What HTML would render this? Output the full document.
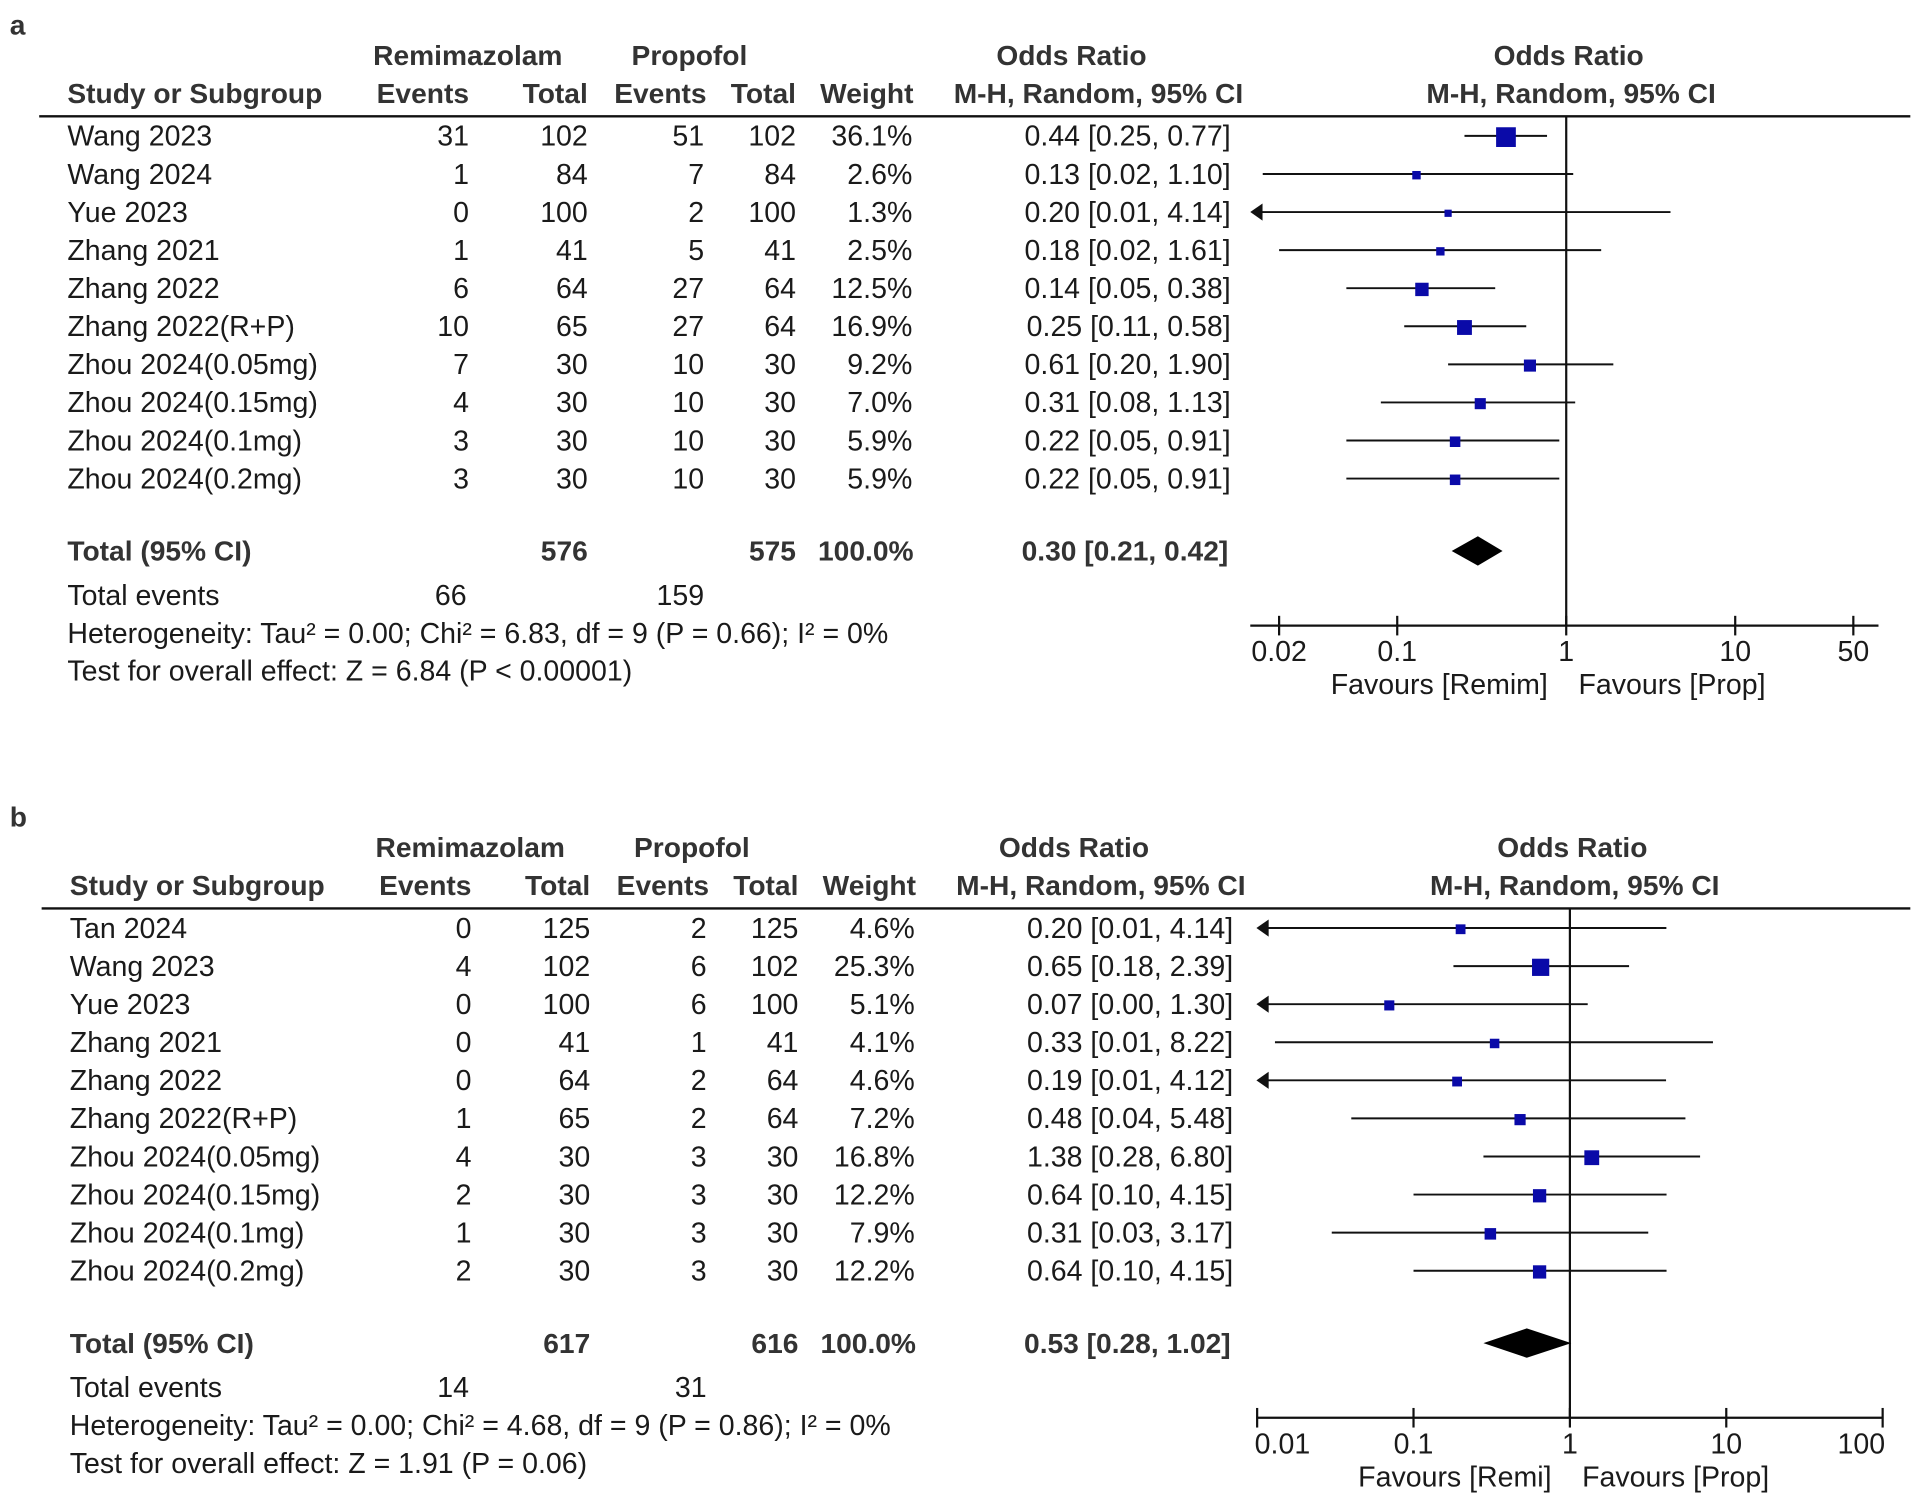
<!DOCTYPE html>
<html><head><meta charset="utf-8">
<style>
html,body{margin:0;padding:0;background:#fff;}
svg{display:block;}
text{font-family:"Liberation Sans",Arial,sans-serif;fill:#1a1a1a;font-size:23.3px;}
.b{font-weight:bold;fill:#333;font-size:23px;}
</style></head>
<body>
<svg id="fig" width="1914" height="1501" viewBox="0 0 1563 1226" preserveAspectRatio="none" xmlns="http://www.w3.org/2000/svg">
</svg>
<script>
// ---- Panel a data ----
const studiesA = ["Wang 2023","Wang 2024","Yue 2023","Zhang 2021","Zhang 2022","Zhang 2022(R+P)","Zhou 2024(0.05mg)","Zhou 2024(0.15mg)","Zhou 2024(0.1mg)","Zhou 2024(0.2mg)"];
const remEventsA = [31,1,0,1,6,10,7,4,3,3];
const remTotalA = [102,84,100,41,64,65,30,30,30,30];
const propEventsA = [51,7,2,5,27,27,10,10,10,10];
const propTotalA = [102,84,100,41,64,64,30,30,30,30];
const weightA = [36.1,2.6,1.3,2.5,12.5,16.9,9.2,7.0,5.9,5.9];
const orA = [0.44,0.13,0.20,0.18,0.14,0.25,0.61,0.31,0.22,0.22];
const loA = [0.25,0.02,0.01,0.02,0.05,0.11,0.20,0.08,0.05,0.05];
const hiA = [0.77,1.10,4.14,1.61,0.38,0.58,1.90,1.13,0.91,0.91];
const plotLoA = [0.25,0.016,0.01,0.02,0.05,0.11,0.20,0.08,0.05,0.05];
const clippedA = [false,false,true,false,false,false,false,false,false,false];
const totalA = {rem:576, prop:575, or:0.30, lo:0.21, hi:0.42, remEv:66, propEv:159};
const ticksA = [0.02,0.1,1,10,50];
const tickLabelsA = ["0.02","0.1","1","10","50"];
const hetA = "Heterogeneity: Tau² = 0.00; Chi² = 6.83, df = 9 (P = 0.66); I² = 0%";
const testA = "Test for overall effect: Z = 6.84 (P < 0.00001)";

// ---- Panel b data ----
const studiesB = ["Tan 2024","Wang 2023","Yue 2023","Zhang 2021","Zhang 2022","Zhang 2022(R+P)","Zhou 2024(0.05mg)","Zhou 2024(0.15mg)","Zhou 2024(0.1mg)","Zhou 2024(0.2mg)"];
const remEventsB = [0,4,0,0,0,1,4,2,1,2];
const remTotalB = [125,102,100,41,64,65,30,30,30,30];
const propEventsB = [2,6,6,1,2,2,3,3,3,3];
const propTotalB = [125,102,100,41,64,64,30,30,30,30];
const weightB = [4.6,25.3,5.1,4.1,4.6,7.2,16.8,12.2,7.9,12.2];
const orB = [0.20,0.65,0.07,0.33,0.19,0.48,1.38,0.64,0.31,0.64];
const loB = [0.01,0.18,0.00,0.01,0.01,0.04,0.28,0.10,0.03,0.10];
const hiB = [4.14,2.39,1.30,8.22,4.12,5.48,6.80,4.15,3.17,4.15];
const plotLoB = [0.01,0.18,0.00,0.013,0.01,0.04,0.28,0.10,0.03,0.10];
const clippedB = [true,false,true,false,true,false,false,false,false,false];
const totalB = {rem:617, prop:616, or:0.53, lo:0.28, hi:1.02, remEv:14, propEv:31};
const ticksB = [0.01,0.1,1,10,100];
const tickLabelsB = ["0.01","0.1","1","10","100"];
const hetB = "Heterogeneity: Tau² = 0.00; Chi² = 4.68, df = 9 (P = 0.86); I² = 0%";
const testB = "Test for overall effect: Z = 1.91 (P = 0.06)";

const NS = "http://www.w3.org/2000/svg";
const svg = document.getElementById("fig");
function mk(tag, attrs, parent){
  const e = document.createElementNS(NS, tag);
  for (const k in attrs) e.setAttribute(k, attrs[k]);
  (parent||svg).appendChild(e);
  return e;
}
function txt(parent, x, y, s, anchor, cls, name){
  const t = mk("text", {x:x, y:y, "text-anchor":anchor||"start"}, parent);
  if (cls) t.setAttribute("class", cls);
  t.textContent = s;
  
  
  return t;
}
function fmt(v){ return v.toFixed(2); }

function panel(cfg){
  const g = mk("g", {});
  
  
  const dy = cfg.dy, dx = cfg.dx;
  const xScale = v => cfg.x1 + Math.log10(v) * cfg.dec;
  const xMin = cfg.axisL, xMax = cfg.axisR;
  txt(g, 8, 28+dy, cfg.label, "start", "b", "panel-label");
  txt(g, 382+dx, 53+dy, "Remimazolam", "middle", "b", "remimazolam-header");
  txt(g, 563+dx, 53+dy, "Propofol", "middle", "b", "propofol-header");
  txt(g, 875+dx, 53+dy, "Odds Ratio", "middle", "b", "odds-ratio-header");
  txt(g, cfg.x1+2, 53+dy, "Odds Ratio", "middle", "b", "plot-odds-ratio-header");
  txt(g, 55+dx, 84+dy, "Study or Subgroup", "start", "b", "study-header");
  txt(g, 383+dx, 84+dy, "Events", "end", "b", "rem-events-header");
  txt(g, 480+dx, 84+dy, "Total", "end", "b", "rem-total-header");
  txt(g, 577+dx, 84+dy, "Events", "end", "b", "prop-events-header");
  txt(g, 650+dx, 84+dy, "Total", "end", "b", "prop-total-header");
  txt(g, 746+dx, 84+dy, "Weight", "end", "b", "weight-header");
  txt(g, 897+dx, 84+dy, "M-H, Random, 95% CI", "middle", "b", "method-header");
  txt(g, cfg.x1+4, 84+dy, "M-H, Random, 95% CI", "middle", "b", "plot-method-header");
  const hl = mk("line", {x1:32+dx, y1:95+dy, x2:1560, y2:95+dy, stroke:"#111", "stroke-width":2}, g);
  
  
  const vl = mk("line", {x1:xScale(1), y1:95+dy, x2:xScale(1), y2:cfg.axisY, stroke:"#111", "stroke-width":1.8}, g);
  
  
  const step = 31.1;
  for (let i=0;i<cfg.studies.length;i++){
    const yc = 111 + dy + i*step, yt = yc + 8;
    txt(g, 55+dx, yt, cfg.studies[i], "start", "", "study-name");
    txt(g, 383+dx, yt, String(cfg.re[i]), "end", "", "rem-events");
    txt(g, 480+dx, yt, String(cfg.rt[i]), "end", "", "rem-total");
    txt(g, 575+dx, yt, String(cfg.pe[i]), "end", "", "prop-events");
    txt(g, 650+dx, yt, String(cfg.pt[i]), "end", "", "prop-total");
    txt(g, 745+dx, yt, cfg.w[i].toFixed(1)+"%", "end", "", "weight");
    txt(g, 1005+dx, yt, fmt(cfg.or[i])+" ["+fmt(cfg.lo[i])+", "+fmt(cfg.hi[i])+"]", "end", "", "odds-ratio-ci");
    const arrow = cfg.clip[i] || cfg.plo[i] <= 0 || xScale(cfg.plo[i]) < xMin;
    const xl = arrow ? xMin+8 : xScale(cfg.plo[i]);
    const xr = Math.min(xScale(cfg.hi[i]), xMax);
    const ci = mk("line", {x1:xl, y1:yc, x2:xr, y2:yc, stroke:"#111", "stroke-width":1.6}, g);
    
    
    if (arrow){
      const ar = mk("polygon", {points:(xMin)+","+yc+" "+(xMin+10)+","+(yc-7)+" "+(xMin+10)+","+(yc+7), fill:"#111"}, g);
      
      
    }
    const s = 3.5 + 2.1*Math.sqrt(cfg.w[i]);
    const sq = mk("rect", {x:xScale(cfg.or[i])-s/2, y:yc-s/2+1, width:s, height:s, fill:"#0a0aa8"}, g);
    
    
  }
  const T = cfg.total;
  const ty = 450+dy;
  txt(g, 55+dx, ty+8, "Total (95% CI)", "start", "b", "total-label");
  txt(g, 480+dx, ty+8, String(T.rem), "end", "b", "rem-total-sum");
  txt(g, 650+dx, ty+8, String(T.prop), "end", "b", "prop-total-sum");
  txt(g, 746+dx, ty+8, "100.0%", "end", "b", "total-weight");
  txt(g, 1003+dx, ty+8, fmt(T.or)+" ["+fmt(T.lo)+", "+fmt(T.hi)+"]", "end", "b", "pooled-or-ci");
  const dm = mk("polygon", {points:xScale(T.lo)+","+ty+" "+xScale(T.or)+","+(ty-12)+" "+xScale(T.hi)+","+ty+" "+xScale(T.or)+","+(ty+12), fill:"#000"}, g);
  
  
  txt(g, 55+dx, 494+dy, "Total events", "start", "", "total-events-label");
  txt(g, 381+dx, 494+dy, String(T.remEv), "end", "", "rem-total-events");
  txt(g, 575+dx, 494+dy, String(T.propEv), "end", "", "prop-total-events");
  txt(g, 55+dx, 525+dy, cfg.het, "start", "", "heterogeneity-text");
  txt(g, 55+dx, 556+dy, cfg.test, "start", "", "overall-effect-text");
  const ay = cfg.axisY;
  const ax = mk("line", {x1:xMin, y1:ay, x2:xMax, y2:ay, stroke:"#111", "stroke-width":1.8}, g);
  
  
  for (let k=0;k<cfg.ticks.length;k++){
    const x = xScale(cfg.ticks[k]);
    const tk = mk("line", {x1:x, y1:ay-8, x2:x, y2:ay+8, stroke:"#111", "stroke-width":1.8}, g);
    
    
    let anc = "middle", lx = x;
    if (k===0 && cfg.edgeLabels){ anc="start"; lx = x-2; }
    if (k===cfg.ticks.length-1 && cfg.edgeLabels){ anc="end"; lx = x+2; }
    txt(g, lx, ay+29, cfg.tickLabels[k], anc, "", "x-tick-label");
  }
  txt(g, cfg.x1-15, ay+56, cfg.favL, "end", "", "favours-left-label");
  txt(g, cfg.x1+10, ay+56, "Favours [Prop]", "start", "", "favours-right-label");
}

panel({name:"panel-a", label:"a", dy:0, dx:0, x1:1279, dec:138, axisL:1021, axisR:1534, axisY:511,
  studies:studiesA, re:remEventsA, rt:remTotalA, pe:propEventsA, pt:propTotalA, w:weightA, or:orA, lo:loA, hi:hiA, plo:plotLoA, clip:clippedA,
  total:totalA, ticks:ticksA, tickLabels:tickLabelsA, het:hetA, test:testA, favL:"Favours [Remim]", edgeLabels:false});
panel({name:"panel-b", label:"b", dy:647, dx:2, x1:1282, dec:127.7, axisL:1026, axisR:1537, axisY:1158,
  studies:studiesB, re:remEventsB, rt:remTotalB, pe:propEventsB, pt:propTotalB, w:weightB, or:orB, lo:loB, hi:hiB, plo:plotLoB, clip:clippedB,
  total:totalB, ticks:ticksB, tickLabels:tickLabelsB, het:hetB, test:testB, favL:"Favours [Remi]", edgeLabels:true});
</script>
</body></html>
